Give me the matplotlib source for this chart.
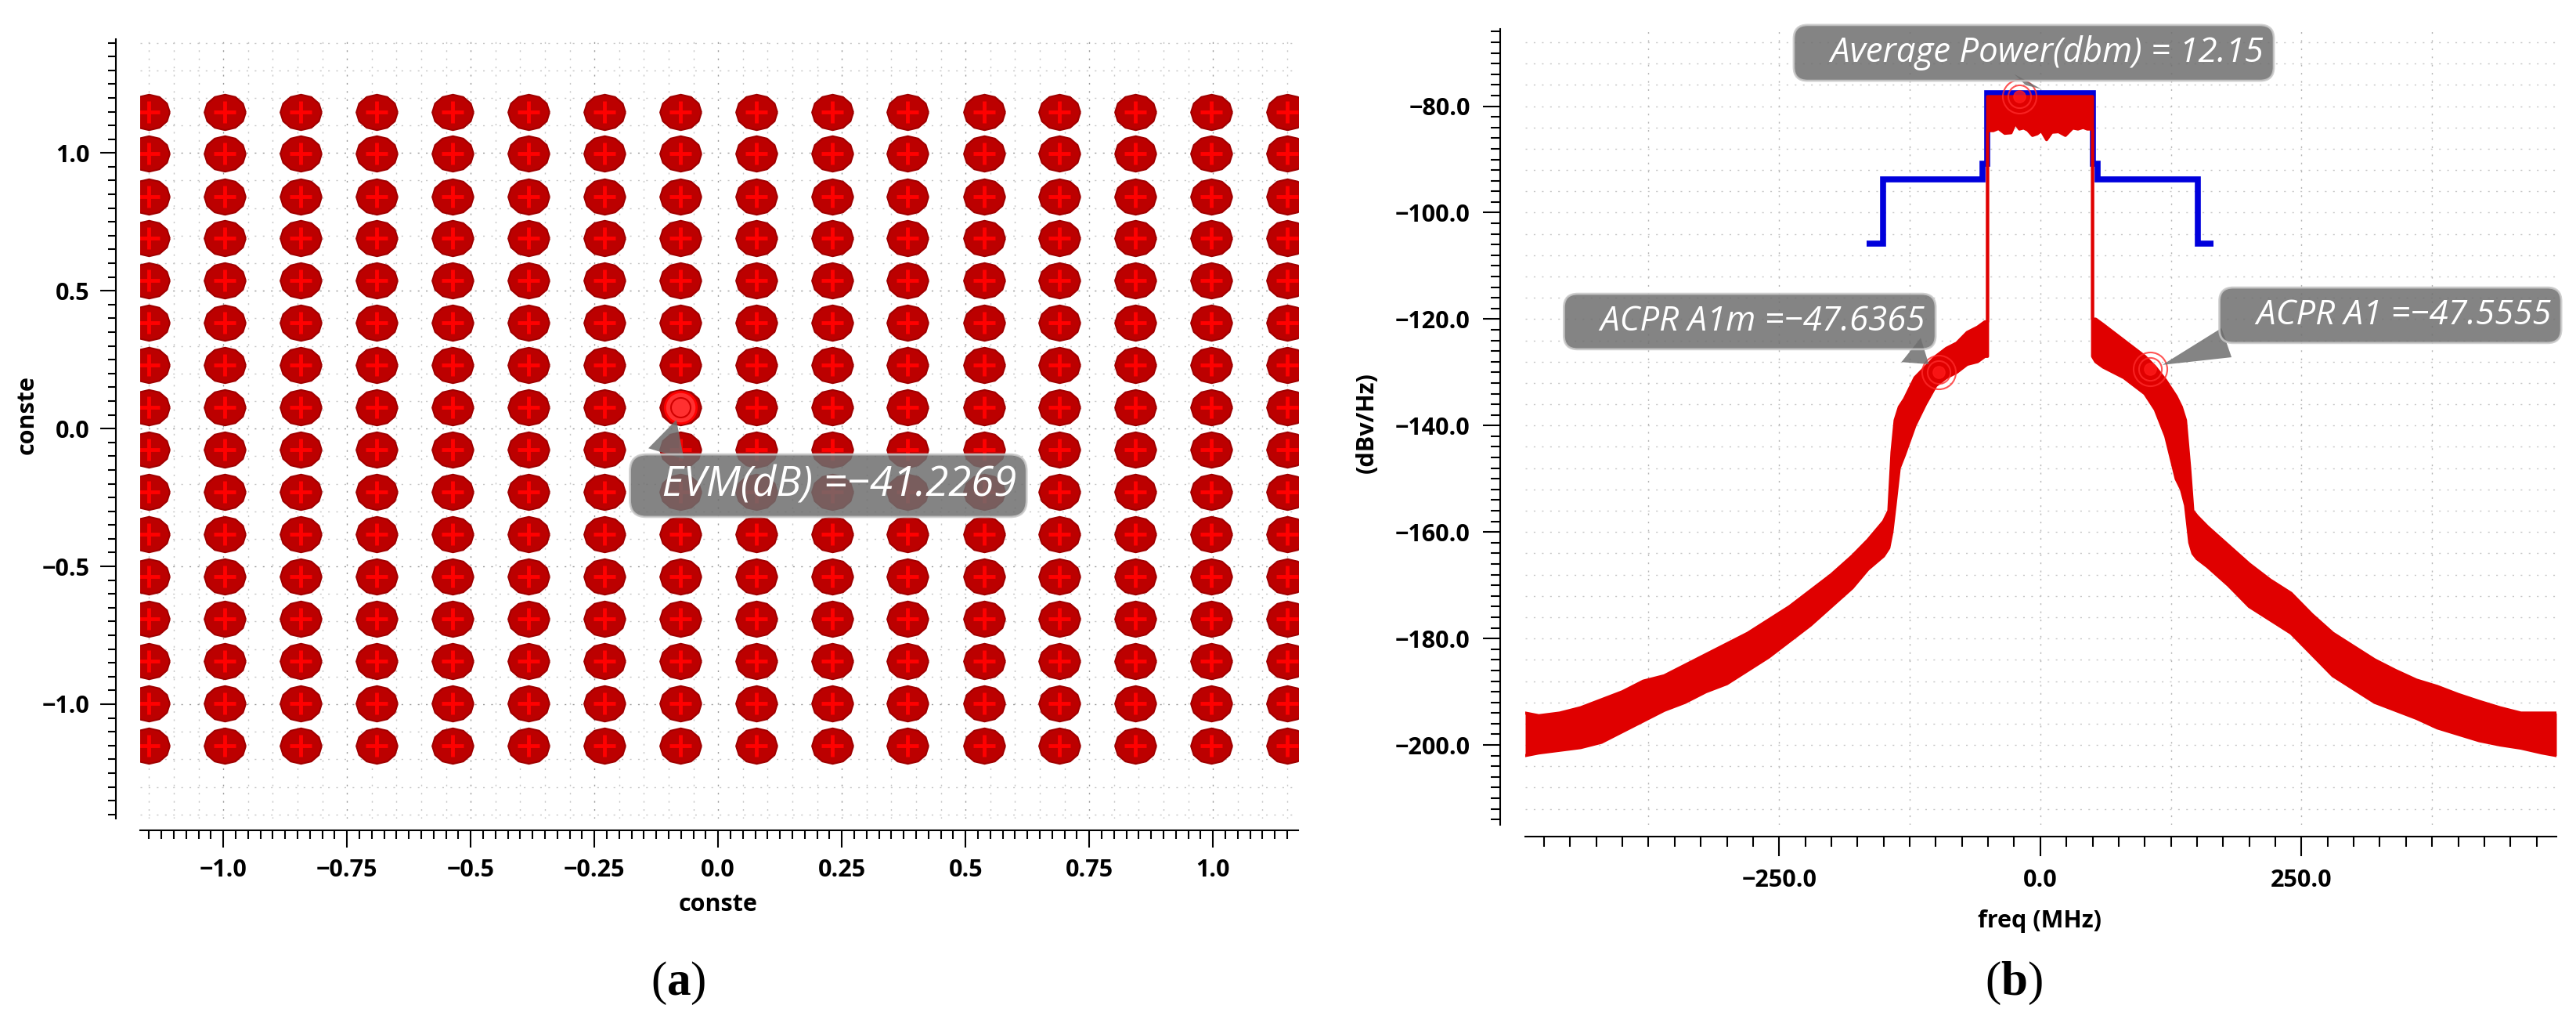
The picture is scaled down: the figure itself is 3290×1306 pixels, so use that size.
import numpy as np
import matplotlib
matplotlib.use('Agg')
import matplotlib.pyplot as plt
from matplotlib.ticker import MultipleLocator

plt.rcParams['font.family'] = ['Open Sans', 'DejaVu Sans']
plt.rcParams['mathtext.fontset'] = 'custom'
plt.rcParams['mathtext.rm'] = 'Liberation Serif'
plt.rcParams['mathtext.bf'] = 'Liberation Serif:bold'

# ---- (a) constellation: 16 levels on I and Q (256-QAM)
qam_levels = [-1.15, -0.997, -0.843, -0.69, -0.537, -0.383, -0.23, -0.077,
              0.077, 0.23, 0.383, 0.537, 0.69, 0.843, 0.997, 1.15]
evm_point = (-0.077, 0.077)
evm_text = 'EVM(dB) =\u221241.2269'
a_xticks = [-1.0, -0.75, -0.5, -0.25, 0.0, 0.25, 0.5, 0.75, 1.0]
a_xticklabels = ['\u22121.0', '\u22120.75', '\u22120.5', '\u22120.25', '0.0', '0.25', '0.5', '0.75', '1.0']
a_yticks = [-1.0, -0.5, 0.0, 0.5, 1.0]
a_yticklabels = ['\u22121.0', '\u22120.5', '0.0', '0.5', '1.0']

# ---- (b) spectrum, read as upper/lower edge of the noisy trace
freq_left = [-493, -480, -460, -440, -420, -400, -380, -360, -340, -320, -300, -280, -260, -240,
             -220, -200, -180, -165, -150, -145, -142, -139, -135, -130, -120, -110, -100, -90,
             -80, -70, -60, -53, -50.5]
up_left = [-194, -194.5, -194, -193, -191.5, -190, -188, -187, -185, -183, -181, -179, -176.5, -174,
           -171, -168, -164.5, -161.5, -158, -156, -145, -139, -136.5, -135, -131, -129, -127, -125.5,
           -124.5, -122.5, -121.5, -120.5, -120.5]
lo_left = [-202, -201.5, -201, -200.5, -199.5, -197.5, -195.5, -193.5, -192, -190, -188.5, -186, -183.5, -180.5,
           -177.5, -174, -170.5, -167, -164.5, -163, -160, -155, -148, -145.5, -140, -136, -132.5, -131,
           -130, -128.5, -128, -127, -127]
freq_mid = [-50.5, -45, -40, -34, -28, -24, -20, -16, -12, -7.5, -3, 1, 6, 11, 17.5, 24, 28, 31, 36, 41, 45, 50]
up_mid = [-78.2] * 22
lo_mid = [-84.6, -84.6, -84.2, -85.1, -85.0, -83.2, -84.3, -84.1, -84.5, -85.5, -85.2, -84.6, -86.3, -84.9,
          -84.8, -85.5, -84.7, -84.1, -84.3, -84.0, -84.3, -84.3]
freq_right = [50, 53, 60, 70, 80, 90, 100, 110, 120, 130, 135, 139, 143, 146, 150, 160, 180, 200, 220,
              240, 260, 280, 300, 320, 340, 360, 380, 400, 420, 440, 460, 480, 494]
up_right = [-120, -120, -121, -122.5, -124, -125.5, -127, -129, -131.5, -134.5, -136.5, -139, -148, -156,
            -157, -159, -162.5, -166, -169, -171.5, -175.5, -179, -181.5, -184, -186, -187.8, -189, -190.5,
            -191.8, -193, -194, -194, -194]
lo_right = [-127, -128, -129, -130, -131, -132.5, -134, -137, -142, -150, -152, -155, -162, -164, -165,
            -166.5, -170, -174, -176.5, -179, -183, -187, -189.5, -192, -193.5, -195, -196.8, -198, -199.2,
            -200, -200.6, -201.5, -202]

mask_freq = [-166, -150.5, -150.5, -55.5, -55.5, -51, -51, 50.5, 50.5, 55, 55, 150.5, 150.5, 166]
mask_level = [-105.8, -105.8, -93.7, -93.7, -90.8, -90.8, -77.6, -77.6, -90.8, -90.8, -93.7, -93.7, -105.8, -105.8]

avg_point = (-20, -78.2)
avg_text = 'Average Power(dbm) = 12.15'
acpr_m_point = (-97, -130)
acpr_m_text = 'ACPR A1m =\u221247.6365'
acpr_p_point = (105, -129.4)
acpr_p_text = 'ACPR A1 =\u221247.5555'
b_xticks = [-250, 0, 250]
b_xticklabels = ['\u2212250.0', '0.0', '250.0']
b_yticks = [-200, -180, -160, -140, -120, -100, -80]
b_yticklabels = ['\u2212200.0', '\u2212180.0', '\u2212160.0', '\u2212140.0', '\u2212120.0', '\u2212100.0', '\u221280.0']

W, H = 3290, 1306
fig = plt.figure(figsize=(W / 100, H / 100), dpi=100)

def px_axes(l, t, r, b):
    return fig.add_axes([l / W, 1 - b / H, (r - l) / W, (b - t) / H])

def style(ax, left_out, bottom_out, xl, yl):
    for s in ['top', 'right']:
        ax.spines[s].set_visible(False)
    ax.spines['left'].set_position(('outward', left_out))
    ax.spines['bottom'].set_position(('outward', bottom_out))
    for s in ['left', 'bottom']:
        ax.spines[s].set_linewidth(1.5)
    ax.tick_params(axis='x', which='major', length=xl[0], width=1.5, pad=xl[2])
    ax.tick_params(axis='x', which='minor', length=xl[1], width=1.5)
    ax.tick_params(axis='y', which='major', length=yl[0], width=1.5, pad=yl[2])
    ax.tick_params(axis='y', which='minor', length=yl[1], width=1.5)

box_fc = '#6e6e6e'
dots = (0, (1.5, 6))

def callout(ax, text, xy, xytext, relpos, size, pad, lead=3):
    ax.annotate(' ' * lead + text, xy=xy, xytext=xytext, textcoords='axes fraction',
                ha='right', va='center', fontsize=size, style='italic', color='white', zorder=20,
                annotation_clip=False,
                bbox=dict(boxstyle='round,pad=%g,rounding_size=0.4' % pad, fc=box_fc, ec='#c8c8c8',
                          lw=2, alpha=0.85),
                arrowprops=dict(arrowstyle='wedge,tail_width=0.9,shrink_factor=0.5', fc=box_fc,
                                ec='none', alpha=0.85, relpos=relpos, shrinkA=0, shrinkB=12))

# ================= (a)
ax1 = px_axes(179, 50, 1658, 1045)
ax1.set_xlim(-1.168, 1.172)
ax1.set_ylim(-1.415, 1.413)
for x in np.arange(-1.15, 1.1501, 0.05):
    major = abs(x / 0.25 - round(x / 0.25)) < 1e-6
    ax1.axvline(x, color='#9a9a9a' if major else '#c6c6c6', lw=1.0, ls=dots, zorder=0)
for y in np.arange(-1.4, 1.4001, 0.1):
    major = abs(y / 0.5 - round(y / 0.5)) < 1e-6
    ax1.axhline(y, color='#9a9a9a' if major else '#c6c6c6', lw=1.0, ls=dots, zorder=0)

I, Q = np.meshgrid(qam_levels, qam_levels)
t = np.linspace(0, 2 * np.pi, 13)
blob = np.column_stack([np.cos(t), 0.86 * np.sin(t)])
ax1.plot(I.ravel(), Q.ravel(), ls='none', marker=blob, ms=38, mfc='#bc0000', mec='#a00000', mew=1.5, zorder=2)
ax1.plot(I.ravel(), Q.ravel(), ls='none', marker='+', ms=20, mec='#ff0000', mew=3.5, zorder=3)
ax1.plot(*evm_point, marker='o', ms=29, mfc='#ff3030', mec='#ff0000', mew=2, zorder=4)
ax1.plot(*evm_point, marker='o', ms=18, mfc='none', mec='#d00000', mew=1.5, zorder=4)

style(ax1, 22.3, 10.8, (16, 8, 10), (14.4, 7.2, 9.4))
ax1.set_xticks(a_xticks, a_xticklabels, fontsize=22, fontweight='bold')
ax1.set_yticks(a_yticks, a_yticklabels, fontsize=22, fontweight='bold')
ax1.xaxis.set_minor_locator(MultipleLocator(0.025))
ax1.yaxis.set_minor_locator(MultipleLocator(0.05))
ax1.set_xlabel('conste', fontsize=22, fontweight='bold', va='center')
ax1.set_ylabel('conste', fontsize=22, fontweight='bold', va='center')
ax1.xaxis.set_label_coords(0.499, -0.1106)
ax1.yaxis.set_label_coords(-0.0974, 0.5176)

callout(ax1, evm_text, evm_point, (0.7566, 0.4271), (0.06, 1.0), 38, 0.25, lead=2)

# ================= (b)
ax2 = px_axes(1948, 37, 3265, 1053)
ax2.set_xlim(-493, 494)
ax2.set_ylim(-215, -65.5)
for x in np.arange(-375, 376, 125):
    ax2.axvline(x, color='#b4b4b4', lw=1.0, ls=dots, zorder=0)
for y in np.arange(-212, -67, 4):
    ax2.axhline(y, color='#c6c6c6', lw=1.0, ls=dots, zorder=0)

ax2.plot(mask_freq, mask_level, color='#0000dc', lw=5.5, solid_joinstyle='miter', solid_capstyle='butt', zorder=2)

freq = freq_left + freq_mid + freq_right
upper = up_left + up_mid + up_right
lower = lo_left + lo_mid + lo_right
ax2.fill_between(freq, lower, upper, color='#e00000', lw=0, zorder=3)
ax2.plot(freq, upper, color='#e00000', lw=2.8, zorder=3)
ax2.plot(freq, lower, color='#e00000', lw=2.8, zorder=3)

for pt in [avg_point, acpr_m_point, acpr_p_point]:
    ax2.plot(*pt, marker='o', ms=31, mfc='none', mec='#ff2a2a', mew=1.5, alpha=0.8, zorder=5)
    ax2.plot(*pt, marker='o', ms=21, mfc='none', mec='#ff2a2a', mew=1.5, alpha=0.8, zorder=5)
    ax2.plot(*pt, marker='o', ms=11, mfc='#ff1a1a', mec='#ff1a1a', mew=1, alpha=0.8, zorder=5)

style(ax2, 23, 10.8, (18, 9.4, 11.5), (16, 8.6, 11.5))
ax2.set_xticks(b_xticks, b_xticklabels, fontsize=22, fontweight='bold')
ax2.set_yticks(b_yticks, b_yticklabels, fontsize=22, fontweight='bold')
ax2.xaxis.set_minor_locator(MultipleLocator(25))
ax2.yaxis.set_minor_locator(MultipleLocator(2))
ax2.set_xlabel('freq (MHz)', fontsize=22, fontweight='bold', va='center')
ax2.set_ylabel('(dBv/Hz)', fontsize=22, fontweight='bold', va='center')
ax2.xaxis.set_label_coords(0.4989, -0.1211)
ax2.yaxis.set_label_coords(-0.1534, 0.505)

callout(ax2, avg_text, avg_point, (0.716, 0.970), (0.5, 0.0), 31.5, 0.3)
callout(ax2, acpr_m_text, acpr_m_point, (0.388, 0.6324), (0.92, 0.0), 31.5, 0.3)
callout(ax2, acpr_p_text, acpr_p_point, (0.9947, 0.6403), (0.08, 0.0), 31.5, 0.3)

fig.text(866 / W, 1 - 1255 / H, r'($\mathbf{a}$)', fontsize=44, family='Liberation Serif', ha='center', va='center')
fig.text(2572 / W, 1 - 1255 / H, r'($\mathbf{b}$)', fontsize=44, family='Liberation Serif', ha='center', va='center')

fig.savefig('out.png', dpi=100)
